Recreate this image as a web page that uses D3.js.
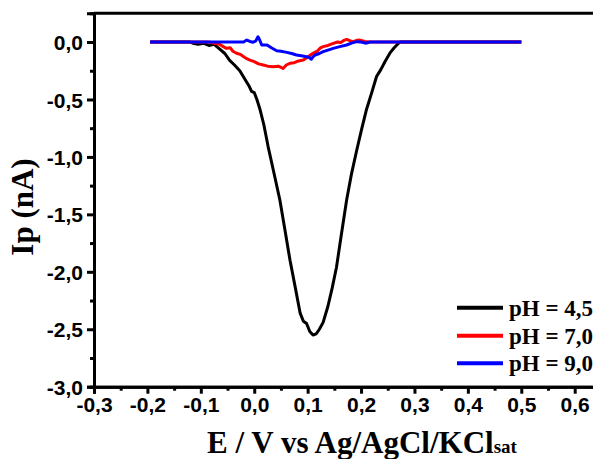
<!DOCTYPE html>
<html>
<head>
<meta charset="utf-8">
<script src="https://cdn.jsdelivr.net/npm/d3@7"></script>
<style>
  body { margin: 0; background: #fff; }
  svg { display: block; }
  .ticklab { font-family: "Liberation Sans", Arial, sans-serif; font-weight: bold; font-size: 21px; fill: #000; }
  .serif { font-family: "Liberation Serif", "Times New Roman", serif; font-weight: bold; fill: #000; }
</style>
</head>
<body>
<svg id="chart" width="593" height="459"></svg>
<script>
// pH 4,5
var e45 = [-0.195, -0.15, -0.12, -0.115, -0.105, -0.095, -0.085, -0.075, -0.065, -0.055, -0.046, -0.037, -0.027, -0.018, -0.010, -0.005, 0.000, 0.005, 0.011, 0.018, 0.026, 0.036, 0.048, 0.058, 0.067, 0.077, 0.086, 0.092, 0.098, 0.104, 0.110, 0.116, 0.122, 0.129, 0.138, 0.146, 0.154, 0.163, 0.173, 0.182, 0.192, 0.201, 0.210, 0.220, 0.229, 0.237, 0.245, 0.255, 0.262, 0.267, 0.273, 0.300, 0.500]
var i45 = [0, 0, 0, -0.01, -0.02, -0.01, -0.03, -0.02, -0.06, -0.10, -0.16, -0.20, -0.25, -0.32, -0.38, -0.43, -0.44, -0.50, -0.59, -0.72, -0.91, -1.12, -1.375, -1.65, -1.90, -2.14, -2.36, -2.43, -2.45, -2.52, -2.55, -2.54, -2.50, -2.44, -2.30, -2.14, -1.96, -1.68, -1.375, -1.15, -0.94, -0.76, -0.59, -0.44, -0.30, -0.24, -0.17, -0.09, -0.05, -0.026, 0, 0, 0]

// pH 7,0
var e70 = [-0.195, -0.10, -0.085, -0.075, -0.065, -0.058, -0.052, -0.045, -0.040, -0.033, -0.025, -0.016, -0.008, 0.000, 0.008, 0.017, 0.025, 0.036, 0.045, 0.050, 0.054, 0.060, 0.067, 0.075, 0.083, 0.092, 0.100, 0.110, 0.118, 0.124, 0.129, 0.138, 0.148, 0.156, 0.162, 0.168, 0.173, 0.180, 0.185, 0.192, 0.198, 0.207, 0.217, 0.500]
var i70 = [0, 0, 0, -0.01, -0.02, -0.04, -0.055, -0.05, -0.08, -0.098, -0.11, -0.14, -0.157, -0.17, -0.19, -0.20, -0.21, -0.215, -0.21, -0.22, -0.23, -0.20, -0.185, -0.18, -0.165, -0.157, -0.13, -0.098, -0.08, -0.05, -0.04, -0.03, -0.012, 0.00, -0.005, 0.015, 0.023, 0.01, 0.003, 0.015, 0.017, 0.005, 0, 0]

// pH 9,0
var e90 = [-0.195, -0.03, -0.02, -0.014, -0.008, -0.002, 0.003, 0.007, 0.010, 0.014, 0.024, 0.032, 0.042, 0.050, 0.061, 0.070, 0.079, 0.088, 0.098, 0.103, 0.107, 0.110, 0.114, 0.122, 0.129, 0.138, 0.148, 0.160, 0.173, 0.182, 0.192, 0.200, 0.210, 0.217, 0.500]
var i90 = [0, 0, 0, 0.017, 0.005, -0.002, 0.01, 0.046, 0.02, -0.026, -0.026, -0.05, -0.076, -0.08, -0.09, -0.10, -0.113, -0.12, -0.128, -0.135, -0.15, -0.13, -0.113, -0.10, -0.084, -0.07, -0.055, -0.04, -0.026, -0.01, 0.003, 0, -0.01, 0, 0]

var seriesNames = ['pH = 4,5', 'pH = 7,0', 'pH = 9,0']
var seriesColors = ['#000000', '#ff0000', '#0000ff']
var xTicks = [-0.3, -0.2, -0.1, 0.0, 0.1, 0.2, 0.3, 0.4, 0.5, 0.6]
var yTicks = [0.0, -0.5, -1.0, -1.5, -2.0, -2.5, -3.0]

const margin = { top: 13.3, right: 0, bottom: 72.3, left: 94 };
const width = 601.4 - margin.left;
const height = 459 - margin.top - margin.bottom;

var svg = d3.select('#chart')
var g = svg.append('g').attr('transform', 'translate(' + margin.left + ',' + margin.top + ')')

var xScale = d3.scaleLinear().domain([-0.3, 0.65]).range([0, width])
var yScale = d3.scaleLinear().domain([-3.0, 0.25]).range([height, 0])

// comma decimals and plain hyphen like the original
function fmt(d) {
    return d3.format('.1f')(d).replace('.', ',').replace('\u2212', '-')
}

var series = [
    { name: seriesNames[0], color: seriesColors[0], xs: e45, ys: i45 },
    { name: seriesNames[1], color: seriesColors[1], xs: e70, ys: i70 },
    { name: seriesNames[2], color: seriesColors[2], xs: e90, ys: i90 }
]

var line = d3.line()
    .x(d => xScale(d[0]))
    .y(d => yScale(d[1]))

series.forEach(s => {
    g.append('path')
        .datum(s.xs.map((x, i) => [x, s.ys[i]]))
        .attr('fill', 'none')
        .attr('stroke', s.color)
        .attr('stroke-width', 3)
        .attr('stroke-linejoin', 'round')
        .attr('d', line)
})

// minor ticks at the half steps
var xMinor = xTicks.map(d => d + 0.05)
var yMinor = yTicks.slice(1).map(d => d + 0.25)

g.append('g')
    .attr('transform', 'translate(0,' + height + ')')
    .call(d3.axisBottom(xScale).tickValues(xMinor).tickSize(4).tickFormat(''))
g.append('g')
    .call(d3.axisLeft(yScale).tickValues(yMinor).tickSize(4).tickFormat(''))

var xAxis = g.append('g')
    .attr('transform', 'translate(0,' + height + ')')
    .call(d3.axisBottom(xScale).tickValues(xTicks).tickSize(7).tickPadding(3).tickFormat(fmt))
var yAxis = g.append('g')
    .call(d3.axisLeft(yScale).tickValues(yTicks).tickSize(7).tickPadding(4).tickFormat(fmt))

g.selectAll('.tick line').attr('stroke', '#000').attr('stroke-width', 3)
g.selectAll('.domain').attr('stroke', '#000').attr('stroke-width', 3)
xAxis.selectAll('text').attr('class', 'ticklab')
yAxis.selectAll('text').attr('class', 'ticklab').attr('dy', '0.36em')

// top frame line
g.append('line')
    .attr('x1', 0).attr('x2', width)
    .attr('y1', 0).attr('y2', 0)
    .attr('stroke', '#000').attr('stroke-width', 3)
g.append('line')
    .attr('x1', width).attr('x2', width)
    .attr('y1', 0).attr('y2', height)
    .attr('stroke', '#000').attr('stroke-width', 3)

// legend
var legendY = [307.7, 335.7, 363.3]
series.forEach((s, i) => {
    svg.append('line')
        .attr('x1', 457).attr('x2', 503)
        .attr('y1', legendY[i]).attr('y2', legendY[i])
        .attr('stroke', s.color).attr('stroke-width', 4)
    svg.append('text')
        .attr('class', 'serif')
        .attr('x', 509).attr('y', legendY[i] + 8)
        .style('font-size', '23px')
        .text(s.name)
})

// axis titles
var xTitle = svg.append('text')
    .attr('class', 'serif')
    .attr('x', 362).attr('y', 453)
    .attr('text-anchor', 'middle')
    .style('font-size', '31px')
xTitle.append('tspan').text('E / V vs Ag/AgCl/KCl')
xTitle.append('tspan').style('font-size', '19px').text('sat')

svg.append('text')
    .attr('class', 'serif')
    .attr('transform', 'translate(33,207) rotate(-90)')
    .attr('text-anchor', 'middle')
    .style('font-size', '31px')
    .text('Ip (nA)')
</script>
</body>
</html>
